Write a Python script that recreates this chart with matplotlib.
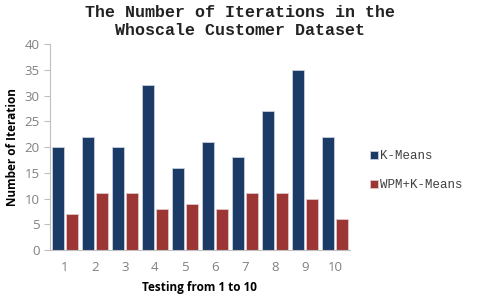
import numpy as np
from matplotlib import pyplot as plt

tests = [1, 2, 3, 4, 5, 6, 7, 8, 9, 10]
kmeans = [20, 22, 20, 32, 16, 21, 18, 27, 35, 22]
wpm_kmeans = [7, 11, 11, 8, 9, 8, 11, 11, 10, 6]

fig = plt.figure(figsize=(4.8, 3.02), dpi=100)
ax = fig.add_axes([0.104, 0.172, 0.625, 0.682])

x = np.array(tests)
w = 0.42
ax.bar(x - 0.23, kmeans, w, color='#1b3a66', edgecolor='#c8d0dc', linewidth=0.6, label='K-Means')
ax.bar(x + 0.23, wpm_kmeans, w, color='#9b3634', edgecolor='#e0c8c8', linewidth=0.6, label='WPM+K-Means')

ax.set_xlim(0.5, 10.5)
ax.set_ylim(0, 40)
ax.set_yticks(range(0, 41, 5))
ax.set_xticks(tests)

for s in ['top', 'right']:
    ax.spines[s].set_visible(False)
for s in ['left', 'bottom']:
    ax.spines[s].set_color('#bfbfbf')
    ax.spines[s].set_linewidth(0.8)
ax.tick_params(axis='y', colors='#bfbfbf', labelcolor='#808080', labelsize=9.5, length=4)
ax.tick_params(axis='x', length=0, labelcolor='#808080', labelsize=9.5, pad=8)
for lab in ax.get_xticklabels() + ax.get_yticklabels():
    lab.set_family('Open Sans')

ax.set_xlabel('Testing from 1 to 10', fontsize=8.5, fontweight='bold', family='Open Sans', labelpad=5)
ax.set_ylabel('Number of Iteration', fontsize=8.5, fontweight='bold', family='Open Sans', labelpad=4)

fig.suptitle('The Number of Iterations in the\nWhoscale Customer Dataset', x=0.5, y=0.985,
             fontsize=12, fontweight='bold', family='Liberation Mono', linespacing=1.3,
             color='#222222')

ax.legend(loc='center left', bbox_to_anchor=(1.03, 0.385), frameon=False,
          prop={'family': 'Liberation Mono', 'size': 9}, handlelength=0.6, handleheight=0.6,
          handletextpad=0.2, labelspacing=1.35, labelcolor='#404040')

fig.savefig('out.png', dpi=100)
